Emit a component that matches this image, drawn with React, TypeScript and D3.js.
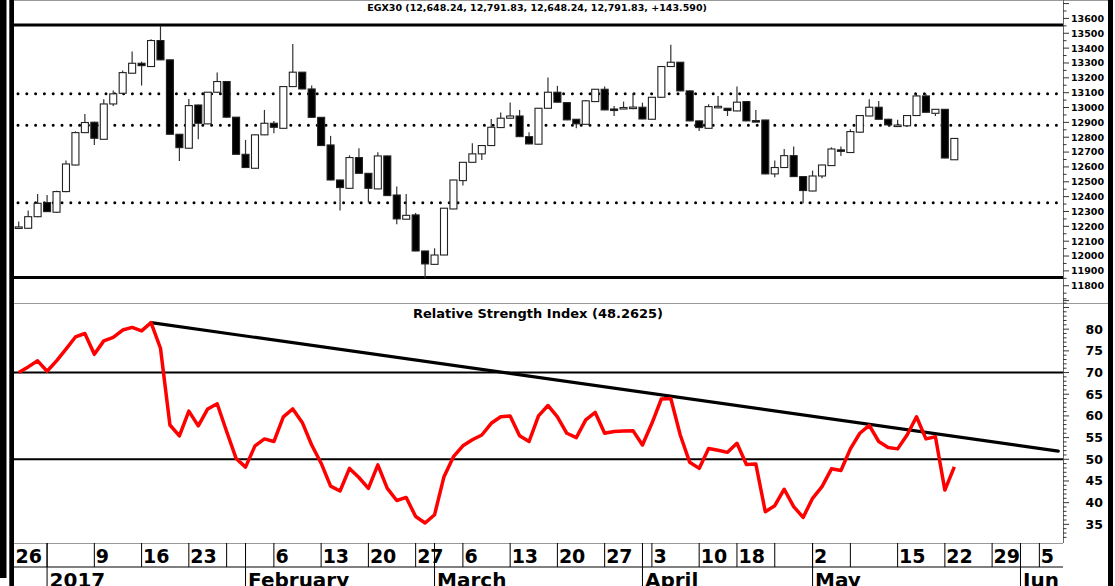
import React from 'react';
import * as d3 from 'd3';

// EGX30 daily candles, [open, high, low, close]
const ohlc: [number, number, number, number][] = [
  [12194, 12232, 12187, 12196], [12187, 12306, 12185, 12265], [12265, 12418, 12262, 12355],
  [12360, 12411, 12297, 12299], [12295, 12440, 12290, 12434], [12434, 12643, 12430, 12620],
  [12613, 12840, 12610, 12831], [12831, 12957, 12828, 12899], [12901, 12905, 12748, 12793],
  [12786, 13056, 12784, 13024], [13024, 13114, 13011, 13092], [13096, 13249, 13094, 13235],
  [13231, 13377, 13229, 13298], [13298, 13309, 13148, 13282], [13276, 13460, 13274, 13451],
  [13451, 13550, 13319, 13321], [13321, 13323, 12818, 12820], [12820, 12822, 12640, 12730],
  [12726, 13058, 12724, 13013], [13017, 13019, 12786, 12894], [12890, 13105, 12888, 13103],
  [13103, 13235, 13101, 13175], [13175, 13177, 12933, 12935], [12935, 12937, 12683, 12685],
  [12685, 12782, 12594, 12596], [12591, 12818, 12589, 12816], [12816, 12984, 12814, 12894],
  [12894, 12910, 12827, 12867], [12860, 13143, 12858, 13141], [13141, 13428, 13139, 13238],
  [13238, 13240, 13123, 13125], [13125, 13148, 12932, 12934], [12934, 12936, 12742, 12744],
  [12748, 12809, 12510, 12512], [12512, 12514, 12306, 12461], [12456, 12678, 12454, 12663],
  [12663, 12726, 12555, 12557], [12557, 12559, 12360, 12456], [12452, 12699, 12450, 12674],
  [12674, 12676, 12405, 12407], [12411, 12468, 12214, 12250], [12248, 12418, 12246, 12274],
  [12277, 12290, 12032, 12034], [12034, 12036, 11850, 11947], [11944, 12052, 11942, 12007],
  [12007, 12324, 12005, 12322], [12317, 12514, 12315, 12512], [12508, 12633, 12475, 12631],
  [12631, 12759, 12629, 12688], [12688, 12746, 12647, 12744], [12744, 12923, 12742, 12867],
  [12865, 12966, 12863, 12928], [12928, 13033, 12926, 12943], [12943, 12984, 12802, 12804],
  [12804, 12833, 12753, 12755], [12753, 12997, 12751, 12995], [12995, 13202, 12993, 13103],
  [13103, 13146, 13034, 13036], [13033, 13035, 12915, 12917], [12921, 12923, 12860, 12890],
  [12887, 13050, 12885, 13045], [13040, 13125, 13038, 13123], [13123, 13141, 12982, 12984],
  [12990, 13011, 12943, 12986], [12995, 13040, 12990, 13000], [13000, 13096, 12988, 13003],
  [13002, 13033, 12921, 12923], [12921, 13071, 12919, 13069], [13069, 13278, 13067, 13276],
  [13276, 13422, 13274, 13305], [13305, 13307, 13110, 13112], [13112, 13114, 12908, 12910],
  [12910, 12912, 12842, 12865], [12860, 13022, 12858, 13006], [13000, 13078, 12995, 13008],
  [12995, 12997, 12943, 12980], [12977, 13141, 12975, 13036], [13040, 13042, 12908, 12910],
  [12912, 12984, 12908, 12910], [12916, 12918, 12551, 12553], [12553, 12643, 12530, 12596],
  [12596, 12721, 12594, 12676], [12676, 12737, 12533, 12535], [12535, 12537, 12355, 12441],
  [12438, 12575, 12436, 12539], [12539, 12615, 12524, 12613], [12609, 12732, 12607, 12721],
  [12715, 12737, 12674, 12705], [12697, 12853, 12695, 12838], [12834, 12948, 12832, 12946],
  [12943, 13056, 12941, 13002], [13002, 13044, 12919, 12921], [12921, 12925, 12880, 12883],
  [12880, 12917, 12876, 12882], [12877, 12948, 12875, 12946], [12946, 13085, 12944, 13078],
  [13078, 13092, 12966, 12968], [12961, 12990, 12943, 12988], [12988, 12990, 12658, 12660],
  [12648.24, 12791.83, 12648.24, 12791.83],
];

const rsi = [
  70.0, 71.3, 72.7, 70.3, 72.7, 75.4, 78.2, 79.0, 74.2, 77.3,
  78.1, 79.8, 80.4, 79.6, 81.5, 75.6, 57.9, 55.4, 61.1, 57.7,
  61.6, 62.8, 56.4, 50.2, 48.2, 53.1, 54.7, 54.1, 59.8, 61.6,
  58.5, 53.3, 49.1, 43.8, 42.7, 47.9, 45.8, 43.3, 48.7, 43.3,
  40.5, 41.2, 36.8, 35.3, 37.2, 46.0, 50.6, 53.1, 54.5, 55.6,
  58.3, 59.8, 60.0, 55.4, 54.1, 60.0, 62.4, 59.8, 56.0, 55.0,
  59.1, 60.8, 56.0, 56.4, 56.5, 56.6, 53.3, 58.3, 63.9, 64.0,
  55.6, 49.3, 47.9, 52.5, 52.1, 51.6, 53.7, 48.8, 48.9, 37.9,
  39.3, 43.1, 39.1, 36.6, 41.0, 43.7, 47.8, 47.4, 52.4, 56.0,
  57.8, 54.1, 52.7, 52.4, 55.6, 59.8, 54.7, 55.2, 42.9, 48.2625,
];

// trend line drawn over the RSI peaks, [bar index, rsi value]
const rsiTrend: [number, number][] = [[14, 81.5], [110, 51.9]];

// weekly ticks (bar index, label) and month boundaries
const dayTicks: [number, string][] = [
  [-2, '26'], [3, ''], [8, '9'], [13, '16'], [18, '23'], [22, ''], [27, '6'], [32, '13'],
  [37, '20'], [42, '27'], [47, '6'], [52, '13'], [57, '20'], [62, '27'], [67, '3'], [72, '10'],
  [76, '18'], [80, ''], [84, '2'], [88, ''], [93, '15'], [98, '22'], [103, '29'], [108, '5'],
];
const monthTicks: [number, string][] = [
  [3, '2017'], [24, 'February'], [44, 'March'], [66, 'April'], [84, 'May'], [106, 'Jun'],
];

const thickLevels = [13556, 11855];
const dottedLevels = [13092, 12880, 12358];
const priceLabels = d3.range(11800, 13601, 100);
const rsiLabels = [35, 40, 45, 50, 55, 60, 65, 70, 75, 80];
const rsiBands = [70, 50];

const title = 'EGX30 (12,648.24, 12,791.83, 12,648.24, 12,791.83, +143.590)';
const rsiTitle = 'Relative Strength Index (48.2625)';

const W = 1115;
const H = 586;
const L = 14;
const R = 1063;
const font = 'DejaVu Sans';

export default function App() {
  const x = d3.scaleLinear().domain([-0.5, 110.5]).range([L, R]);
  const yP = d3.scaleLinear().domain([11704, 13724]).range([300, 0]);
  const yR = d3.scaleLinear().domain([30.7, 85.8]).range([543, 304]);

  const rsiLine = d3
    .line<number>()
    .x((_, i) => x(i))
    .y((d) => yR(d));
  const trendLine = d3
    .line<[number, number]>()
    .x((d) => x(d[0]))
    .y((d) => yR(d[1]));

  const bw = 7;

  return (
    <div style={{ position: 'absolute', left: 0, top: 0 }}>
      <svg width={W} height={H} style={{ display: 'block', background: '#fff' }}>
        <defs>
          <clipPath id="plot">
            <rect x={L} y={0} width={R - L} height={H} />
          </clipPath>
        </defs>

        {/* frame */}
        <rect x={0} y={0} width={6.5} height={578} fill="#000" />
        <rect x={9.3} y={0} width={4.7} height={H} fill="#000" />
        <rect x={1108} y={0} width={5} height={H} fill="#000" />
        <line x1={L} x2={1108} y1={0.5} y2={0.5} stroke="#999" />
        <line x1={L} x2={1108} y1={303.5} y2={303.5} stroke="#999" />
        <line x1={R + 0.5} x2={R + 0.5} y1={0} y2={543} stroke="#666" />

        {/* price panel */}
        <text x={537} y={11} textAnchor="middle" fontFamily={font} fontWeight="bold" fontSize={9.5}>
          {title}
        </text>
        {thickLevels.map((v) => (
          <line key={v} x1={L} x2={R} y1={yP(v)} y2={yP(v)} stroke="#000" strokeWidth={3} />
        ))}
        {dottedLevels.map((v) => (
          <line
            key={v}
            x1={L + 4}
            x2={R - 6}
            y1={yP(v)}
            y2={yP(v)}
            stroke="#000"
            strokeWidth={3}
            strokeLinecap="round"
            strokeDasharray="0 8.8"
          />
        ))}
        {ohlc.map(([o, h, l, c], i) => {
          const cx = x(i);
          const up = c >= o;
          const top = yP(Math.max(o, c));
          const bh = Math.max(1.5, yP(Math.min(o, c)) - top);
          return (
            <g key={i}>
              <line x1={cx} x2={cx} y1={yP(h)} y2={yP(l)} stroke="#333" strokeWidth={1.2} />
              <rect
                x={cx - bw / 2}
                y={top}
                width={bw}
                height={bh}
                fill={up ? '#fff' : '#000'}
                stroke="#222"
                strokeWidth={1.1}
              />
            </g>
          );
        })}
        {d3.range(11700, 13751, 50).map((v) => (
          <line
            key={v}
            x1={R}
            x2={R + (v % 100 === 0 ? 6 : 3.5)}
            y1={yP(v)}
            y2={yP(v)}
            stroke="#333"
          />
        ))}
        {priceLabels.map((v) => (
          <text
            key={v}
            x={1104}
            y={yP(v)}
            dy="0.36em"
            textAnchor="end"
            fontFamily={font}
            fontWeight="bold"
            fontSize={9.5}
          >
            {v}
          </text>
        ))}

        {/* RSI panel */}
        <text x={538} y={318} textAnchor="middle" fontFamily={font} fontWeight="bold" fontSize={13}>
          {rsiTitle}
        </text>
        {rsiBands.map((v) => (
          <line key={v} x1={L} x2={R} y1={yR(v)} y2={yR(v)} stroke="#000" strokeWidth={2} />
        ))}
        <path d={trendLine(rsiTrend) || ''} fill="none" stroke="#000" strokeWidth={3.2} strokeLinecap="round" />
        <path d={rsiLine(rsi) || ''} fill="none" stroke="#ff0000" strokeWidth={3.5} strokeLinejoin="round" />
        {d3.range(32, 88).map((v) => (
          <line
            key={v}
            x1={R}
            x2={R + (v % 5 === 0 ? 6 : 3.5)}
            y1={yR(v)}
            y2={yR(v)}
            stroke="#333"
          />
        ))}
        {rsiLabels.map((v) => (
          <text
            key={v}
            x={1103}
            y={yR(v)}
            dy="0.36em"
            textAnchor="end"
            fontFamily={font}
            fontWeight="bold"
            fontSize={12.5}
          >
            {v}
          </text>
        ))}

        {/* date axis */}
        <line x1={L} x2={R} y1={543.5} y2={543.5} stroke="#999" />
        <line x1={L} x2={R} y1={567} y2={567} stroke="#000" />
        <g clipPath="url(#plot)">
          {dayTicks.map(([i, lab]) => {
            const tx = Math.max(x(i), L);
            return (
              <g key={'d' + i}>
                {x(i) > L && <line x1={tx} x2={tx} y1={543} y2={567} stroke="#000" />}
                <text x={tx + 1.5} y={563} fontFamily={font} fontWeight="bold" fontSize={19}>
                  {lab}
                </text>
              </g>
            );
          })}
          {monthTicks.map(([i, lab]) => (
            <g key={'m' + i}>
              <line x1={x(i)} x2={x(i)} y1={543} y2={H} stroke="#000" />
              <text x={x(i) + 2.5} y={587} fontFamily={font} fontWeight="bold" fontSize={20}>
                {lab}
              </text>
            </g>
          ))}
        </g>
      </svg>
    </div>
  );
}
